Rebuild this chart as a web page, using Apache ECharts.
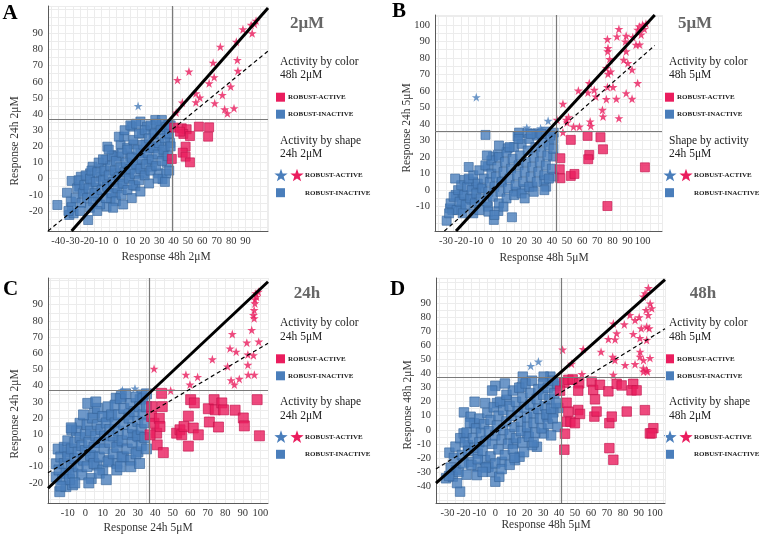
<!DOCTYPE html>
<html>
<head>
<meta charset="utf-8">
<script src="https://cdn.jsdelivr.net/npm/echarts@6/dist/echarts.min.js"></script>
<style>
  html, body { margin: 0; background: #fff; }
  #chart { width: 760px; height: 536px; }
</style>
</head>
<body>
<div id="chart"></div>
<script>
// ---- panel A: 48h 2uM (x) vs 24h 2uM (y)
const aBlueSq = [
  [-40.7,-16.3],[-34,-8.7],[-30.8,-1.4],[-31.3,-14.2],[-32.4,-22.5],[-29.4,-21.5],[-30.8,-17.7],[-24.4,1.2],
  [-25.5,-4.9],[-19.3,-25.6],[-22.5,-8],[-18,3.3],[-17.5,-1.9],[-16.3,7.4],[-14,-5.8],[-12.9,-11.1],
  [-10.6,1.2],[-9.5,6.4],[-7.2,11.6],[-6,19.8],[-6.5,-3.8],[-6.5,-17.3],[-3.7,-12.2],[-1.4,14.7],
  [-0.3,3.4],[-0.3,-9],[2,13.7],[3.2,20.9],[4.3,-3.6],[5.5,26],[6.6,7.4],[7.8,19.2],[8.9,1.2],[10,13.7],
  [11.2,32.2],[12.4,21.2],[13.5,-4.7],[14.7,7.4],[17,35.4],[17,15.8],[18.1,27.9],[19.3,3.3],[20.4,21.2],
  [21.6,32.2],[22.7,11.5],[23.8,18.8],[25,7.4],[26.1,27.3],[27.3,36.3],[28.4,20],[29.6,3.3],[30.7,32.3],
  [31.9,36.3],[32.3,-0.3],[33,15.8],[34.2,20],[35.3,27.3],[35.3,9.8],[36.4,33.5],[34.9,3.3],[37.6,22.1],
  [-28,-12],[-27,-6],[-26,-1],[-24,-15],[-23,-9],[-22,-4],[-21,2],[-20,-12],[-19,-6],[-18,0],[-17,5],
  [-16,-14],[-15,-9],[-14,-2],[-13,4],[-12,10],[-11,-16],[-10,-7],[-9,-1],[-8,5],[-7,-12],[-6,-5],[-5,2],
  [-4,8],[-3,14],[-3,-9],[-2,-2],[-1,5],[0,11],[0,-14],[1,-6],[2,1],[3,7],[4,16],[4,-10],[5,-3],[6,4],
  [7,10],[8,18],[8,-7],[9,0],[10,6],[11,13],[12,24],[12,-4],[13,3],[14,9],[15,18],[16,28],[16,-1],[17,6],
  [18,12],[19,21],[20,30],[20,2],[21,9],[22,16],[23,25],[24,33],[24,5],[25,12],[26,19],[27,28],[28,34],
  [28,8],[29,15],[30,22],[31,30],[32,11],[33,18],[34,25],[35,32],[36,14],[37,5],[37,28],[38,20],[38,33],
  [-9,12],[-5,18],[2,26],[6,30],[10,33],[14,34],[-33,-20],[-25,-20],[-18,-18],[-13,-20],[-2,-18],[5,-16],
  [11,-12],[17,-8],[23,-3],[29,0],[34,-2]
];
const aPinkSq = [
  [40.4,31.6],[45.7,31.2],[49.1,30.6],[46.8,27.7],[51.4,26.4],[57.6,32.2],[64.7,31.8],[64,26],[48.4,19.8],
  [46.4,16.1],[48.4,13.6],[51.4,10.1],[38.8,12.2],[44.5,29.1]
];
const aPinkStar = [
  [97.3,97.8],[96.2,95.8],[93.9,95.2],[94.6,90],[88.2,92.5],[83.6,84.8],[72.5,81.7],[67.5,71.8],[84.3,73.5],
  [84.7,66.7],[50.7,66.3],[42.7,61.1],[68.2,62.8],[64.7,59],[79.7,57],[55.5,52.8],[73.9,51.8],[58.3,50.2],
  [46.1,47.1],[55.5,47.3],[68.6,46.7],[75.5,42.9],[77.4,40.5],[82,43.6],[41.8,40.9]
];
const aBlueStar = [[15.4,45]];
const aFit = [[-30.8,-32.4],[105.6,105.6]];
const aFitDash = [[-47.2,-32.4],[105.6,79]];
const aCut = [39, 36.8];
const aXTicks = [-40,-30,-20,-10,0,10,20,30,40,50,60,70,80,90];
const aYTicks = [-20,-10,0,10,20,30,40,50,60,70,80,90];

// ---- panel B: 48h 5uM (x) vs 24h 5uM (y)
const bBlueSq = [
  [-29.6,-18.5],[-27.4,-11],[-25.9,-12],[-23.7,-2.9],[-19.1,-2.9],[-19.8,-8],[-20.2,-11.6],[-18,6.2],
  [-12.1,5.1],[-13.2,-5.9],[-10,2.1],[-3.9,33.4],[-2.3,-10],[1.6,-18],[4.6,-12.6],[13.6,-16.4],[-6.7,1.1],
  [-2.3,14.2],[1,20.3],[4.2,21.3],[10.7,25.3],[17.3,32.4],[18.3,34.8],[23.8,34.4],[30.3,34.4],[35.8,35.4],
  [41.2,34.8],[40.8,20.3],[41.2,8.2],[36.2,2.1],[27.1,2.1],[34.7,6.2],[6.4,5.1],[21.6,0.7],[16.2,-0.9],
  [-27,-8],[-25,-4],[-23,-12],[-22,0],[-21,-7],[-20,3],[-18,-3],[-17,-9],[-16,2],[-15,7],[-14,-5],[-13,0],
  [-12,9],[-11,-8],[-10,-2],[-9,4],[-8,12],[-7,-5],[-6,1],[-5,7],[-4,15],[-3,-7],[-2,-1],[-1,5],[0,10],
  [0,18],[1,-4],[2,2],[3,8],[4,14],[5,-8],[5,20],[6,-1],[7,5],[8,11],[9,17],[10,23],[10,-5],[11,1],[12,7],
  [13,13],[14,19],[15,26],[15,-3],[16,3],[17,9],[18,15],[19,21],[20,28],[20,-2],[21,5],[22,11],[23,17],
  [24,24],[25,31],[25,2],[26,8],[27,14],[28,20],[29,26],[30,33],[30,5],[31,11],[32,17],[33,23],[34,29],
  [35,9],[36,15],[37,21],[38,27],[38,7],[40,13],[41,25],[41,31],[39,33],[-19,-14],[-12,-14],[-2,-13],
  [8,-10],[-28,-14],[-24,7],[-8,-12],[12,26],[18,31],[26,34],[33,34],[-15,14],[-3,21],[5,27],[2,-15],
  [22,-5],[28,-1],[35,0]
];
const bPinkSq = [
  [63.6,32.8],[52.5,30.4],[72.1,32],[73.8,24.7],[64.7,21.3],[64,18.7],[45.6,19.3],[45.2,12.6],[45.6,7.2],
  [52.5,8.6],[54.9,9.8],[101.5,13.8],[76.7,-9.6]
];
const bPinkStar = [
  [84.3,97.4],[76.7,91.3],[77.1,85.9],[76.9,83.9],[78.2,79.2],[83,92.9],[89.1,93.3],[88.6,89.9],[93.5,92.5],
  [96.7,97],[97.8,99],[100,100],[102.2,100.6],[101.1,97.4],[95.6,87.9],[89.1,83.9],[87.5,78.8],[90.2,76.8],
  [93,72.8],[76,73.8],[78.9,71.7],[77.1,70.3],[96.7,64.7],[64.7,64.7],[76.7,62.3],[80.4,62.3],[57.5,60.2],
  [68,60.6],[63.8,59],[69,56.6],[89.1,58.6],[76,55],[82.6,55.2],[93,55.2],[47.3,52.2],[73.4,48.5],
  [73.8,44.5],[84.3,43.5],[49.5,42.5],[51,44.1],[50,40.9],[54.3,38.4],[58.2,38.4],[65.3,41.5],[65.7,38.8],
  [47.3,35],[43.4,42.5],[99,94],[98,88]
];
const bBlueStar = [[-10,56.2],[23.4,37.8],[32.5,37.4],[37.5,41.9]];
const bFit = [[-23.4,-24.7],[108,105.9]];
const bFitDash = [[-31.1,-24.7],[108,87.5]];
const bCut = [42.7, 35.6];
const bXTicks = [-30,-20,-10,0,10,20,30,40,50,60,70,80,90,100];
const bYTicks = [-10,0,10,20,30,40,50,60,70,80,90,100];

// ---- panel C: 24h 5uM (x) vs 24h 2uM (y)
const cBlueSq = [
  [-14.6,-25.4],[-16.5,-8.2],[-16.5,-16.4],[-15.5,0.9],[-11.1,-22.3],[-7.3,-21.2],[-10.1,-1],[-9.2,-14.2],
  [-7.7,12.8],[-3,16.8],[1.4,29.1],[3.4,-17.3],[4.4,-3.9],[6.7,-9],[5.3,23],[13,20.8],[13.6,-6],[18.1,-8],
  [18.7,5.1],[17.7,32.3],[20.6,33.4],[21.9,-3.9],[30.1,-0.8],[30.7,8.5],[27.3,9.7],[31.3,31.4],[32.4,34.3],
  [25,22.4],
  [-15,-12],[-14,-4],[-13,-18],[-12,-8],[-12,2],[-11,-14],[-10,-4],[-10,6],[-9,-18],[-8,-9],[-8,1],[-7,-14],
  [-6,-5],[-6,5],[-5,12],[-4,-10],[-4,-1],[-3,8],[-2,-15],[-2,3],[-1,-6],[0,10],[0,0],[1,16],[1,-10],[2,5],
  [3,-3],[3,12],[4,20],[5,-8],[5,2],[6,9],[7,16],[7,26],[8,-4],[8,5],[9,13],[10,21],[10,-12],[11,1],[11,9],
  [12,17],[13,27],[13,-7],[14,5],[14,13],[15,22],[16,-2],[16,9],[17,17],[17,28],[18,-12],[18,2],[19,12],
  [19,22],[20,32],[21,-4],[21,6],[22,16],[22,26],[23,35],[24,1],[24,10],[25,20],[26,29],[26,-6],[27,5],
  [27,14],[28,24],[29,33],[29,-2],[30,9],[30,18],[31,27],[32,3],[32,13],[33,22],[33,32],[34,8],[34,17],
  [35,27],[35,35],[35,1],[-14,-22],[-6,-20],[2,-20],[8,-14],[12,-18],[6,30],[-1,22],[-8,14],[20,-10],
  [26,-10],[31,-8]
];
const cPinkSq = [
  [37.9,27.1],[37.9,21],[39.3,16.8],[40.8,10.7],[41.1,3.5],[44.6,-1.3],[43.6,35.3],[44,27.1],[42.3,19.9],
  [42.7,14.8],[37,9.7],[52.2,10.7],[54.1,12.8],[55.1,9.7],[56.4,14.8],[60.2,31.4],[62.3,29.4],[58.9,21.2],
  [58.9,2.7],[61.7,13.9],[64.6,9.7],[70.3,25.8],[70.9,17.6],[73.6,31.4],[74.2,25.1],[76.1,14.5],[78,29.4],
  [79,25.1],[85.6,24.9],[90.3,20.1],[90.9,15.2],[98.2,31.4],[99.5,9.1]
];
const cPinkStar = [
  [97.5,97],[98.9,98],[97.9,94.9],[96.9,90.8],[96.9,93.3],[96.5,86.7],[96.1,83.6],[96.5,81.6],[95.1,74.4],
  [84,71.9],[99.1,67.2],[92.3,66.6],[96.1,58.8],[92.9,59.2],[82.7,63],[86.2,61],[72.6,56.3],[81.3,51.9],
  [92.9,52.9],[39.3,50.5],[57.5,46.8],[96.6,46.8],[93.1,46.8],[64.2,45.4],[88,44.2],[83.3,43.4],[85.2,40.7],
  [59.8,40.7],[48.8,37]
];
const cBlueStar = [[28.4,38.3],[21.2,37.2]];
const cFit = [[-21.3,-23.3],[104.4,104.2]];
const cFitDash = [[-21.3,-13.7],[104.4,66.2]];
const cCut = [36.5, 36.9];
const cXTicks = [-10,0,10,20,30,40,50,60,70,80,90,100];
const cYTicks = [-20,-10,0,10,20,30,40,50,60,70,80,90];

// ---- panel D: 48h 5uM (x) vs 48h 2uM (y)
const dBlueSq = [
  [-22.1,-44.1],[-28.8,-16.3],[-30.9,-34.6],[-26.7,-33.4],[-24.6,-28.6],[-19.7,12.4],[-15.5,9.3],[-13.4,4.6],
  [-19.9,-2.6],[-17.2,-11],[-11,-16.9],[-16.4,-22.8],[-11.1,-26.4],[-11.6,-32.3],[-6.4,-21.6],[-4.3,-26.4],
  [-2.3,-29.9],[0,-37],[2.5,-33.5],[0,31.3],[-6.3,19],[1,19],[7.2,21.4],[4.1,-22.8],[12.4,-21.6],[15.2,-19.2],
  [16.6,30.6],[17.2,37.9],[26.1,-12.1],[23,-11],[19.9,-2.6],[30.3,-2.6],[32.4,9.4],[34.5,37.9],[30.3,37.9],
  [38.5,31.4],[39.5,15.6],[36.4,12.4],[11.4,-9.8],
  [-28,-27],[-26,-20],[-25,-12],[-23,-30],[-22,-6],[-21,-18],[-20,-24],[-19,-9],[-18,-2],[-17,-15],[-16,5],
  [-15,-25],[-14,-6],[-13,-13],[-12,1],[-11,-21],[-10,-9],[-10,8],[-9,-2],[-8,-15],[-7,4],[-6,-27],[-6,-8],
  [-5,12],[-4,-1],[-3,-19],[-3,7],[-2,-10],[-1,16],[0,-4],[0,-24],[1,3],[2,-14],[2,10],[3,20],[4,-7],[5,0],
  [5,14],[6,-18],[7,6],[7,25],[8,-10],[9,-3],[9,17],[10,10],[11,28],[11,-14],[12,2],[13,-6],[13,20],[14,13],
  [15,30],[16,-1],[16,6],[17,-9],[17,23],[18,16],[19,33],[20,2],[20,9],[21,-5],[22,26],[22,18],[23,35],
  [24,5],[24,12],[25,-2],[26,22],[27,29],[27,15],[28,8],[29,1],[30,25],[30,33],[31,17],[32,11],[33,4],
  [33,30],[34,22],[35,15],[36,35],[36,8],[37,26],[38,19],[39,2],[39,33],[-24,-38],[-29,-33],[-18,-32],
  [-8,-30],[4,-28],[9,-25],[-13,20],[-2,28],[6,33],[12,-20],[18,-16],[24,-9],[35,-4]
];
const dPinkSq = [
  [43.3,33.6],[45.8,35.6],[48.5,35.9],[52.6,33.1],[52,27.9],[44.7,19.3],[45.8,12.9],[44.7,5.8],[47.1,5.8],
  [49.9,4.7],[43.7,-2.8],[43.3,-14.2],[52,14.1],[53.1,11.3],[60.4,34.3],[61.4,28.4],[62.5,21.7],[62.1,9.4],
  [63.5,13],[65.6,32.1],[70.9,27.4],[71.5,4.7],[71.5,-13.1],[74,-21.4],[73,9.4],[76.1,32.8],[79.2,31.6],
  [82.4,13],[86.5,32.8],[85.4,28.1],[88.6,28.1],[93.8,14],[96.9,-2.6],[40.6,27.9],[99.1,1.1],[98,-2.5]
];
const dPinkStar = [
  [93.9,97.3],[92.8,95],[96,101],[94.5,85.4],[84.4,81.8],[90.2,80.2],[87.6,78.2],[80.9,75.1],[74,75.8],
  [76.1,68.7],[86.5,68.3],[91.5,72.3],[70.9,64.7],[75.1,64.4],[66.3,55.6],[73.6,52],[75,49.7],[81.4,46.1],
  [87.6,46.8],[90.8,55.6],[92.9,49.6],[42.2,57.1],[47.8,47.1],[55.1,57.5],[54.3,39.7],[74,39.2],[92.9,41.5],
  [95.4,41.5],[97.1,90],[98.1,86.6],[95.9,81.8],[94.9,73.5],[96.5,72.3],[90.7,65.4],[94.9,64],[90.7,52.1],
  [97,51.2],[92.8,43.9],[94.9,42.6]
];
const dBlueStar = [[22.2,45.5],[27,48.6]];
const dFit = [[-37.2,-38.1],[106.4,107]];
const dFitDash = [[-37.2,-27.9],[106.4,72]];
const dCut = [41.2, 37.8];
const dXTicks = [-30,-20,-10,0,10,20,30,40,50,60,70,80,90,100];
const dYTicks = [-40,-30,-20,-10,0,10,20,30,40,50,60,70,80,90];

const FONT = 'Liberation Serif';
const PINK = '#ea1d5e';
const BLUE = '#4a7ebb';
const STAR = 'path://M50 0L61.8 35.1L98.9 35.1L68.9 56.8L80.3 91.9L50 70.2L19.7 91.9L31.1 56.8L1.1 35.1L38.2 35.1Z';

const grids = [
  { left: 48, top: 6, width: 220, height: 225 },
  { left: 435, top: 15, width: 227, height: 216 },
  { left: 48, top: 278, width: 220, height: 225 },
  { left: 436, top: 278, width: 229, height: 225 }
];
const xRanges = [[-47.2, 105.6], [-37.3, 112.8], [-21.3, 104.4], [-37.2, 106.4]];
const yRanges = [[-32.4, 106.9], [-24.7, 105.9], [-32.4, 106.5], [-52.2, 108.2]];

function valueAxis(gridIndex, range, labels) {
  return {
    type: 'value',
    gridIndex: gridIndex,
    min: range[0],
    max: range[1],
    splitNumber: Math.round((range[1] - range[0]) / 5),
    axisLine: { onZero: false, lineStyle: { color: '#5a5a5a', width: 1 } },
    axisTick: { show: false },
    splitLine: { lineStyle: { color: '#ececec', width: 1 } },
    axisLabel: {
      fontFamily: FONT, fontSize: 10.5, color: '#333', margin: 5,
      formatter: v => (labels.indexOf(v) >= 0 ? String(v) : '')
    }
  };
}

function panelSeries(i, blueSq, pinkSq, blueStar, pinkStar, fit, fitDash, cut, sqSize) {
  const base = { type: 'scatter', xAxisIndex: i, yAxisIndex: i, silent: true };
  return [
    Object.assign({}, base, {
      data: blueSq, symbol: 'rect', symbolSize: sqSize,
      itemStyle: { color: BLUE, borderColor: '#37659c', borderWidth: 0.8 },
      markLine: {
        silent: true, symbol: 'none', animation: false, label: { show: false },
        lineStyle: { color: '#7a7a7a', width: 1.2, type: 'solid' },
        data: [{ xAxis: cut[0] }, { yAxis: cut[1] }]
      }
    }),
    Object.assign({}, base, {
      data: pinkSq, symbol: 'rect', symbolSize: sqSize,
      itemStyle: { color: PINK, borderColor: '#c5124c', borderWidth: 0.8 }
    }),
    Object.assign({}, base, {
      data: blueStar, symbol: STAR, symbolSize: 9,
      itemStyle: { color: BLUE }
    }),
    Object.assign({}, base, {
      data: pinkStar, symbol: STAR, symbolSize: 9,
      itemStyle: { color: PINK }
    }),
    {
      type: 'line', xAxisIndex: i, yAxisIndex: i, data: fit, symbol: 'none', silent: true, z: 5,
      lineStyle: { color: '#000', width: 3 }
    },
    {
      type: 'line', xAxisIndex: i, yAxisIndex: i, data: fitDash, symbol: 'none', silent: true, z: 5,
      lineStyle: { color: '#000', width: 1.2, type: [4, 3] }
    }
  ];
}

function txt(x, y, text, size, opts) {
  return {
    type: 'text', x: x, y: y, silent: true,
    rotation: (opts && opts.rotation) || 0,
    style: {
      text: text, fontFamily: FONT, fontSize: size,
      fontWeight: (opts && opts.weight) || 'normal',
      fill: (opts && opts.fill) || '#222',
      align: (opts && opts.align) || 'left', verticalAlign: 'middle'
    }
  };
}

// legend glyph: a five-pointed star as a polygon
function starPoints(cx, cy, r) {
  const pts = [];
  for (let k = 0; k < 10; k++) {
    const a = -Math.PI / 2 + k * Math.PI / 5;
    const rr = k % 2 === 0 ? r : r * 0.4;
    pts.push([cx + rr * Math.cos(a), cy + rr * Math.sin(a)]);
  }
  return pts;
}

function legendBlock(x0, y0, lines) {
  const sq = (cy, color) => ({
    type: 'rect', silent: true,
    shape: { x: x0, y: cy - 4.5, width: 9, height: 9 }, style: { fill: color }
  });
  const star = (cx, cy, color) => ({
    type: 'polygon', silent: true,
    shape: { points: starPoints(cx, cy + 0.5, 7) },
    style: { fill: color }
  });
  return [
    txt(x0 + 4, y0, lines[0], 11.5),
    txt(x0 + 4, y0 + 13.5, lines[1], 11.5),
    sq(y0 + 35.5, PINK), txt(x0 + 12, y0 + 35.5, 'ROBUST-ACTIVE', 7, { weight: 'bold' }),
    sq(y0 + 52.5, BLUE), txt(x0 + 12, y0 + 52.5, 'ROBUST-INACTIVE', 7, { weight: 'bold' }),
    txt(x0 + 4, y0 + 79, lines[2], 11.5),
    txt(x0 + 4, y0 + 92.5, lines[3], 11.5),
    star(x0 + 5, y0 + 113.5, BLUE), star(x0 + 21, y0 + 113.5, PINK),
    txt(x0 + 29, y0 + 113.5, 'ROBUST-ACTIVE', 7, { weight: 'bold' }),
    sq(y0 + 131, BLUE), txt(x0 + 29, y0 + 131, 'ROBUST-INACTIVE', 7, { weight: 'bold' })
  ];
}

const graphic = [].concat(
  txt(10, 14, 'A', 21, { weight: 'bold', fill: '#000', align: 'center' }),
  txt(399, 12, 'B', 21, { weight: 'bold', fill: '#000', align: 'center' }),
  txt(10.5, 290, 'C', 21, { weight: 'bold', fill: '#000', align: 'center' }),
  txt(397.5, 290, 'D', 21, { weight: 'bold', fill: '#000', align: 'center' }),
  txt(307, 24, '2μM', 17, { weight: 'bold', fill: '#666', align: 'center' }),
  txt(695, 24, '5μM', 17, { weight: 'bold', fill: '#666', align: 'center' }),
  txt(307, 294, '24h', 17, { weight: 'bold', fill: '#666', align: 'center' }),
  txt(703, 294, '48h', 17, { weight: 'bold', fill: '#666', align: 'center' }),
  txt(166, 257, 'Response 48h 2μM', 11.5, { align: 'center', fill: '#333' }),
  txt(15, 141, 'Response 24h 2μM', 11.5, { align: 'center', fill: '#333', rotation: Math.PI / 2 }),
  txt(544, 258, 'Response 48h 5μM', 11.5, { align: 'center', fill: '#333' }),
  txt(407, 128, 'Response 24h 5μM', 11.5, { align: 'center', fill: '#333', rotation: Math.PI / 2 }),
  txt(148, 528, 'Response 24h 5μM', 11.5, { align: 'center', fill: '#333' }),
  txt(15, 414, 'Response 24h 2μM', 11.5, { align: 'center', fill: '#333', rotation: Math.PI / 2 }),
  txt(546, 525, 'Response 48h 5μM', 11.5, { align: 'center', fill: '#333' }),
  txt(408, 405, 'Response 48h 2μM', 11.5, { align: 'center', fill: '#333', rotation: Math.PI / 2 }),
  legendBlock(276, 61.7, ['Activity by color', '48h 2μM', 'Activity by shape', '24h 2μM']),
  legendBlock(665, 61.7, ['Activity by color', '48h 5μM', 'Shape by activity', '24h 5μM']),
  legendBlock(276, 323.3, ['Activity by color', '24h 5μM', 'Activity by shape', '24h 2μM']),
  legendBlock(665, 323.3, ['Activity by color', '48h 5μM', 'Activity by shape', '48h 2μM'])
);

const chart = echarts.init(document.getElementById('chart'));
chart.setOption({
  animation: false,
  backgroundColor: '#fff',
  grid: grids.map(g => Object.assign({ containLabel: false, outerBoundsMode: 'none' }, g)),
  xAxis: [
    valueAxis(0, xRanges[0], aXTicks),
    valueAxis(1, xRanges[1], bXTicks),
    valueAxis(2, xRanges[2], cXTicks),
    valueAxis(3, xRanges[3], dXTicks)
  ],
  yAxis: [
    valueAxis(0, yRanges[0], aYTicks),
    valueAxis(1, yRanges[1], bYTicks),
    valueAxis(2, yRanges[2], cYTicks),
    valueAxis(3, yRanges[3], dYTicks)
  ],
  series: [].concat(
    panelSeries(0, aBlueSq, aPinkSq, aBlueStar, aPinkStar, aFit, aFitDash, aCut, 9),
    panelSeries(1, bBlueSq, bPinkSq, bBlueStar, bPinkStar, bFit, bFitDash, bCut, 9),
    panelSeries(2, cBlueSq, cPinkSq, cBlueStar, cPinkStar, cFit, cFitDash, cCut, 10),
    panelSeries(3, dBlueSq, dPinkSq, dBlueStar, dPinkStar, dFit, dFitDash, dCut, 9.5)
  ),
  graphic: graphic
});
</script>
</body>
</html>
